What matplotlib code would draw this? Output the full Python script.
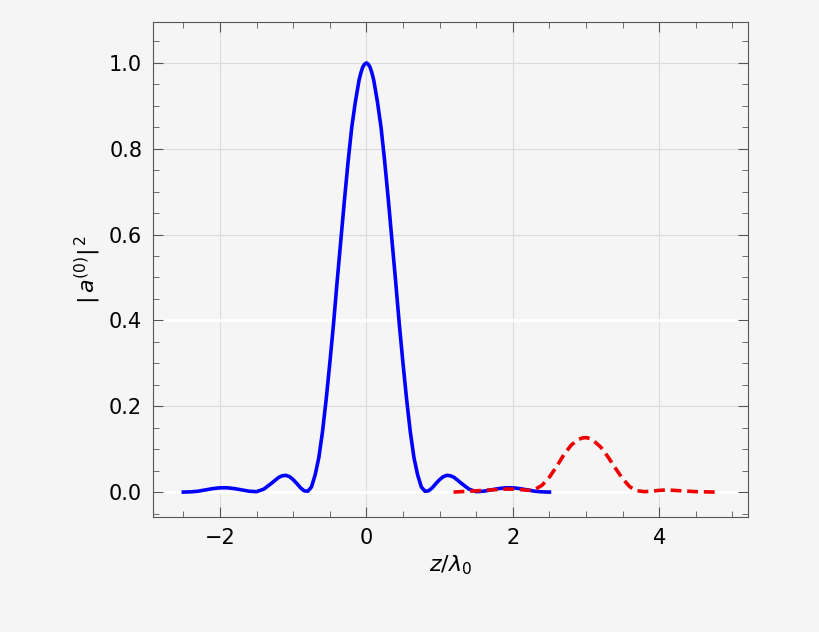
import numpy as np
import matplotlib.pyplot as plt
from matplotlib.ticker import MultipleLocator

# blue curve, half profile (symmetric about z=0)
z_half = [0.0, 0.025, 0.05, 0.075, 0.1, 0.15, 0.2, 0.25, 0.3, 0.35, 0.4, 0.45, 0.5, 0.55, 0.6, 0.65,
          0.7, 0.75, 0.8, 0.85, 0.9, 0.95, 1.0, 1.05, 1.1, 1.15, 1.2, 1.3, 1.4, 1.5, 1.6, 1.7, 1.8,
          1.9, 2.0, 2.1, 2.2, 2.3, 2.4, 2.5]
a_half = [1.0, 0.997, 0.99, 0.977, 0.96, 0.91, 0.85, 0.77, 0.68, 0.585, 0.49, 0.39, 0.30, 0.215, 0.14, 0.08,
          0.04, 0.012, 0.002, 0.003, 0.01, 0.02, 0.029, 0.036, 0.039, 0.038, 0.034, 0.02, 0.007, 0.001, 0.002, 0.005, 0.008,
          0.01, 0.01, 0.008, 0.005, 0.002, 0.0005, 0.0]
z_blue = [-v for v in z_half[::-1]] + z_half[1:]
a_blue = a_half[::-1] + a_half[1:]

z_red = [1.19, 1.4, 1.6, 1.8, 1.9, 2.0, 2.1, 2.2, 2.3, 2.4, 2.5, 2.6, 2.7, 2.8, 2.9, 2.95, 3.0, 3.05,
         3.1, 3.2, 3.3, 3.4, 3.5, 3.6, 3.7, 3.8, 3.9, 4.0, 4.1, 4.2, 4.3, 4.5, 4.76]
a_red = [0.0, 0.002, 0.004, 0.006, 0.007, 0.007, 0.006, 0.004, 0.006, 0.016, 0.035, 0.06, 0.088, 0.11, 0.123, 0.126, 0.127, 0.125,
         0.12, 0.105, 0.082, 0.056, 0.031, 0.012, 0.003, 0.001, 0.002, 0.004, 0.005, 0.004, 0.003, 0.001, 0.0]

bg = '#f5f5f5'
fig = plt.figure(figsize=(8.2, 6.32), dpi=100, facecolor=bg)
ax = fig.add_axes([0.187, 0.182, 0.725, 0.783], facecolor=bg)

for x in [-2, 0, 2, 4]:
    ax.axvline(x, color='#dcdcdc', lw=0.8, zorder=0)
for y in [0.2, 0.6, 0.8, 1.0]:
    ax.axhline(y, color='#dcdcdc', lw=0.8, zorder=0)
for y in [0.0, 0.4]:
    ax.axhline(y, color='white', lw=2, zorder=0)

ax.plot(z_blue, a_blue, color='#0000ff', lw=2.6, solid_joinstyle='round')
ax.plot(z_red, a_red, color='#ee0000', lw=2.6, ls=(0, (3, 1.6)))

ax.set_xlim(-2.91, 5.21)
ax.set_ylim(-0.058, 1.095)
ax.set_xticks([-2, 0, 2, 4])
ax.set_yticks([0.0, 0.2, 0.4, 0.6, 0.8, 1.0])
ax.set_yticklabels(['0.0', '0.2', '0.4', '0.6', '0.8', '1.0'])
ax.set_xticklabels(['\u22122', '0', '2', '4'])
ax.xaxis.set_minor_locator(MultipleLocator(0.5))
ax.yaxis.set_minor_locator(MultipleLocator(0.05))
ax.tick_params(which='both', direction='in', top=True, right=True, color='#555555', labelsize=15, pad=8)
ax.tick_params(which='major', length=7)
ax.tick_params(which='minor', length=4)
for s in ax.spines.values():
    s.set_color('#555555')
ax.set_xlabel(r'$z/\lambda_0$', fontsize=16, math_fontfamily='dejavusans')
ax.set_ylabel(r'$|\,a^{(0)}|^{\,2}$', fontsize=16, math_fontfamily='dejavusans')
fig.savefig('out.png', dpi=100, facecolor=bg)
